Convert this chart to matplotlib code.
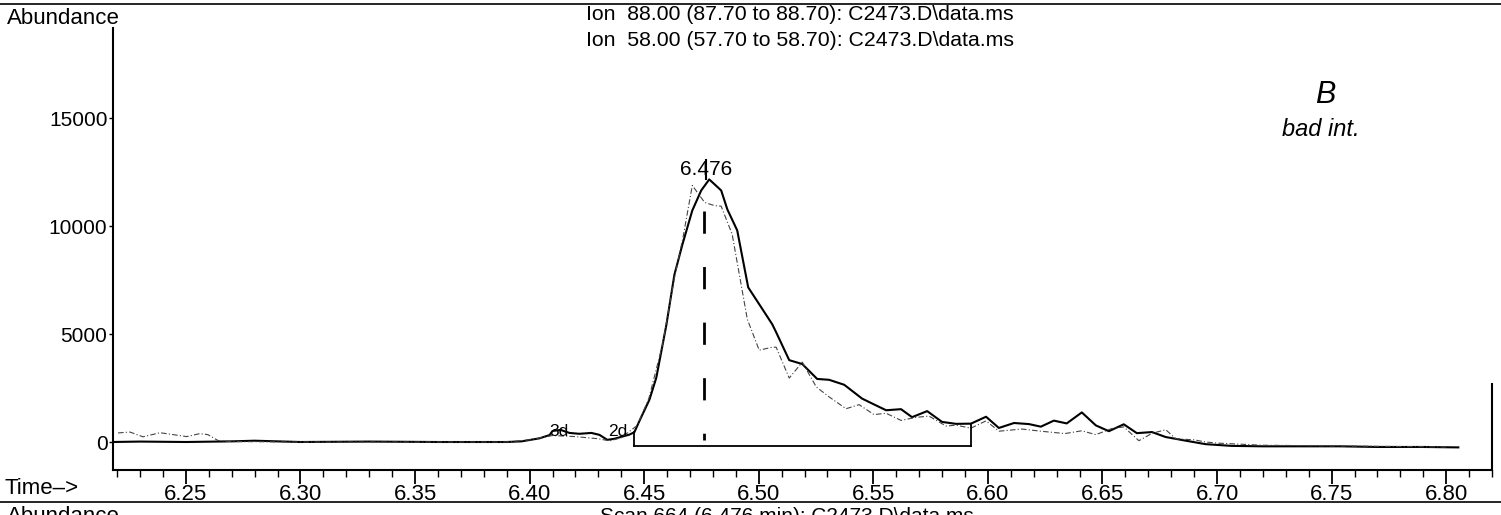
import numpy as np
import matplotlib.pyplot as plt

plt.rcParams['font.family'] = ['Liberation Sans', 'DejaVu Sans']

# Ion 88 trace (solid)
t88 = [6.218, 6.23, 6.25, 6.27, 6.28, 6.30, 6.33, 6.36, 6.39, 6.3965, 6.4043,
       6.4087, 6.41, 6.4135, 6.4174, 6.4217, 6.427, 6.4305, 6.4339, 6.437,
       6.4435, 6.4457, 6.448, 6.4523, 6.4553, 6.4597, 6.4632, 6.4667, 6.471,
       6.4749, 6.4784, 6.4836, 6.4863, 6.4906, 6.4954, 6.5002, 6.5059, 6.5076,
       6.5133, 6.519, 6.5255, 6.5307, 6.5373, 6.5451, 6.5503, 6.5556, 6.5621,
       6.5669, 6.5735, 6.58, 6.5861, 6.5926, 6.5992, 6.6048, 6.6114, 6.6179,
       6.6231, 6.6288, 6.6344, 6.641, 6.6471, 6.6528, 6.6593, 6.665, 6.6716,
       6.6776, 6.6864, 6.695, 6.7064, 6.72, 6.74, 6.7537, 6.77, 6.79, 6.8053]
a88 = [0, 20, 0, 30, 60, 0, 20, 0, 0, 30, 170,
       320, 510, 560, 420, 380, 420, 330, 100, 150,
       340, 450, 990, 1960, 2980, 5430, 7750, 9150, 10720,
       11650, 12160, 11650, 10770, 9800, 7160, 6380, 5450, 5080,
       3790, 3610, 2920, 2880, 2650, 2010, 1740, 1470, 1520,
       1150, 1430, 930, 840, 850, 1170, 650, 880, 830,
       710, 990, 860, 1370, 770, 500, 820, 410, 460,
       230, 60, -100, -180, -200, -200, -200, -230, -230, -250]

# Ion 58 trace (thin dash-dot)
t58 = [6.2204, 6.2256, 6.2313, 6.2387, 6.2504, 6.2561, 6.2596, 6.264, 6.27,
       6.30, 6.35, 6.39, 6.40, 6.41, 6.42, 6.43, 6.435, 6.44, 6.4469, 6.452,
       6.458, 6.463, 6.467, 6.471, 6.4764, 6.4806, 6.4836, 6.4884, 6.495,
       6.5002, 6.5059, 6.5076, 6.5133, 6.519, 6.5251, 6.5307, 6.5381, 6.5438,
       6.5503, 6.5556, 6.5621, 6.5686, 6.5743, 6.5817, 6.5861, 6.5926, 6.5992,
       6.6048, 6.6148, 6.6231, 6.6336, 6.641, 6.6471, 6.654, 6.6593, 6.6659,
       6.6716, 6.6776, 6.682, 6.69, 6.695, 6.70, 6.72, 6.80]
a58 = [420, 460, 240, 430, 250, 390, 340, 70, 20,
       0, 0, 0, 100, 300, 250, 150, 50, 200, 760, 2000,
       4500, 7500, 9500, 11880, 11090, 10950, 10920, 9620, 5690,
       4250, 4390, 4390, 2960, 3700, 2550, 2090, 1540, 1730,
       1270, 1330, 1000, 1140, 1200, 740, 780, 640, 980,
       500, 600, 500, 390, 520, 340, 620, 700, 60,
       400, 570, 150, 100, 0, -50, -150, -230]

rt_peak = 6.476
peak_top = 12160
base_t = [6.4457, 6.5926]
base_level = -180
xticks = [6.25, 6.30, 6.35, 6.40, 6.45, 6.50, 6.55, 6.60, 6.65, 6.70, 6.75, 6.80]
yticks = [0, 5000, 10000, 15000]

fig = plt.figure(figsize=(15.01, 5.15), dpi=100)
ax = fig.add_axes([0.0753, 0.0874, 0.9187, 0.8582])

ax.plot(t88, a88, color='black', lw=1.5)
ax.plot(t58, a58, color='#444444', lw=0.8, linestyle=(0, (5, 2, 1, 2)))

# integration baseline and drop lines
ax.plot(base_t, [base_level, base_level], color='black', lw=1.3)
ax.plot([base_t[0], base_t[0]], [base_level, np.interp(base_t[0], t88, a88)], color='black', lw=1.3)
ax.plot([base_t[1], base_t[1]], [base_level, np.interp(base_t[1], t88, a88)], color='black', lw=1.3)

# retention time marker
ax.plot([rt_peak, rt_peak], [10700, 100], color='black', lw=2, linestyle=(0, (8, 12)))
ax.plot([rt_peak + 0.0008, rt_peak + 0.0008], [peak_top, peak_top + 900], color='black', lw=1.5)
ax.text(rt_peak + 0.0012, peak_top + 450, '6.476', ha='center', va='center', fontsize=15)
ax.text(6.413, 480, '3d', ha='center', va='center', fontsize=12.5)
ax.text(6.4383, 480, '2d', ha='center', va='center', fontsize=12.5)

ax.set_xlim(6.2182, 6.8193)
ax.set_ylim(-1296, 19170)
ax.set_xticks(xticks)
ax.set_xticklabels([f'{v:.2f}' for v in xticks], fontsize=16)
ax.set_xticks(np.arange(6.22, 6.82, 0.01), minor=True)
ax.set_yticks(yticks)
ax.set_yticklabels([str(v) for v in yticks], fontsize=15)
ax.tick_params(axis='x', which='major', direction='out', length=10, width=1.3, pad=0)
ax.tick_params(axis='x', which='minor', direction='out', length=5, width=1.0)
ax.tick_params(axis='y', direction='out', length=3, width=1.0, pad=1)
ax.spines['top'].set_visible(False)
ax.spines['right'].set_bounds(-1296, 2700)
for s in ['left', 'bottom', 'right']:
    ax.spines[s].set_linewidth(1.5)

# header and annotations
fig.text(0.0047, 1 - 18 / 515, 'Abundance', fontsize=16, va='center', ha='left')
fig.text(586 / 1501, 1 - 15 / 515, 'Ion  88.00 (87.70 to 88.70): C2473.D\\data.ms', fontsize=15.3, va='center', ha='left')
fig.text(586 / 1501, 1 - 40 / 515, 'Ion  58.00 (57.70 to 58.70): C2473.D\\data.ms', fontsize=15.3, va='center', ha='left')
fig.text(0.0033, 1 - 488 / 515, 'Time\u2013>', fontsize=16, va='center', ha='left')
fig.text(1315 / 1501, 1 - 95 / 515, 'B', fontsize=22, va='center', ha='left', fontstyle='italic', fontweight='light')
fig.text(1282 / 1501, 1 - 130 / 515, 'bad int.', fontsize=17, va='center', ha='left', fontstyle='italic', fontweight='light')

# panel separators and cut-off next panel header
fig.add_artist(plt.Line2D([0, 1], [1 - 4 / 515, 1 - 4 / 515], color='black', lw=1.2))
fig.add_artist(plt.Line2D([0, 1], [1 - 502 / 515, 1 - 502 / 515], color='black', lw=1.2))
fig.text(0.0047, 1 - 506 / 515, 'Abundance', fontsize=16, va='top', ha='left')
fig.text(600 / 1501, 1 - 507 / 515, 'Scan 664 (6.476 min): C2473.D\\data.ms', fontsize=15, va='top', ha='left')

fig.savefig('out.png', dpi=100)
